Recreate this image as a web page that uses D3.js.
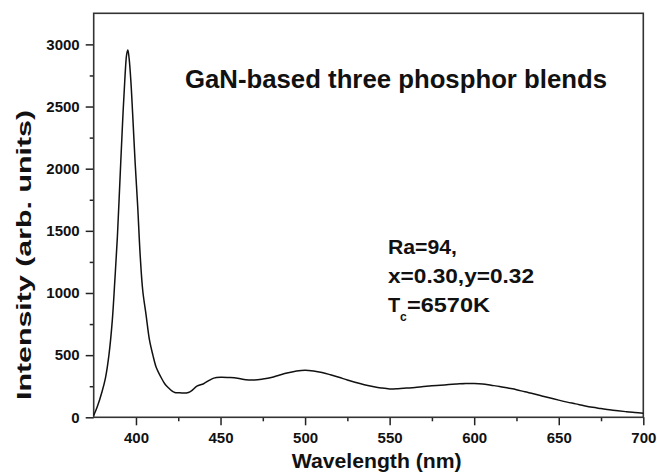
<!DOCTYPE html>
<html>
<head>
<meta charset="utf-8">
<script src="https://cdn.jsdelivr.net/npm/d3@7/dist/d3.min.js"></script>
<style>
  html, body { margin: 0; padding: 0; background: #fff; }
  svg { display: block; }
  text { font-family: "Liberation Sans", Arial, Helvetica, sans-serif; font-weight: bold; fill: #111; }
</style>
</head>
<body>
<svg id="chart" width="657" height="472"></svg>
<script>
// Emission spectrum
const wavelength = [375, 377, 380, 382, 384, 386, 387.5, 389, 390.5, 392, 393.5, 394.5, 395.2, 396, 397, 398, 399.5, 401, 402.5, 404, 406, 408, 410, 412, 414.5, 417, 419, 421, 423, 425, 428, 431, 433, 436, 440, 443, 446, 450, 455, 460, 465, 470, 475, 480, 485, 490, 495, 500, 505, 510, 515, 520, 525, 530, 535, 540, 545, 550, 555, 560, 565, 570, 575, 580, 585, 590, 595, 600, 605, 610, 615, 620, 625, 630, 635, 640, 645, 650, 655, 660, 665, 670, 675, 680, 685, 690, 695, 700];
const intensity = [15, 80, 210, 320, 500, 780, 1100, 1450, 1900, 2350, 2740, 2920, 2955, 2880, 2700, 2450, 2050, 1700, 1300, 1020, 820, 620, 500, 400, 330, 270, 240, 215, 200, 198, 195, 200, 215, 250, 270, 295, 315, 322, 320, 315, 302, 300, 308, 320, 340, 358, 372, 378, 372, 360, 342, 322, 300, 280, 262, 248, 236, 228, 230, 235, 240, 247, 253, 258, 263, 268, 272, 272, 268, 258, 248, 235, 222, 205, 190, 172, 155, 138, 122, 108, 93, 80, 70, 60, 52, 45, 38, 33];

const xMajorTicks = [400, 450, 500, 550, 600, 650, 700];
const xMinorTicks = [425, 475, 525, 575, 625, 675];
const yMajorTicks = [0, 500, 1000, 1500, 2000, 2500, 3000];
const yMinorTicks = [250, 750, 1250, 1750, 2250, 2750];

const titleText = "GaN-based three phosphor blends";
const infoLines = ["Ra=94,", "x=0.30,y=0.32"];
const tcMain = "T", tcSub = "c", tcValue = "=6570K";
const xLabel = "Wavelength (nm)";
const yLabel = "Intensity (arb. units)";

const svg = d3.select("#chart");
const pLeft = 93.7, pRight = 643.3, pTop = 13.3, pBottom = 417.3;

const x = d3.scaleLinear().domain([375, 700]).range([pLeft, pRight]);
const y = d3.scaleLinear().domain([0, 3250]).range([pBottom, pTop]);

// axes
const xAxis = svg.append("g").attr("transform", `translate(0,${pBottom})`)
  .call(d3.axisBottom(x).tickValues(xMajorTicks).tickSize(8).tickPadding(7).tickFormat(d3.format("d")));
const xMinor = svg.append("g").attr("transform", `translate(0,${pBottom})`)
  .call(d3.axisBottom(x).tickValues(xMinorTicks).tickSize(4).tickFormat(""));
const yAxis = svg.append("g").attr("transform", `translate(${pLeft},0)`)
  .call(d3.axisLeft(y).tickValues(yMajorTicks).tickSize(8).tickPadding(6).tickFormat(d3.format("d")));
const yMinor = svg.append("g").attr("transform", `translate(${pLeft},0)`)
  .call(d3.axisLeft(y).tickValues(yMinorTicks).tickSize(4).tickFormat(""));

[xAxis, xMinor, yAxis, yMinor].forEach(g => {
  g.select(".domain").remove();
  g.selectAll("line").attr("stroke", "#222").attr("stroke-width", 1.5);
  g.selectAll("text").attr("font-size", 15).attr("fill", "#111")
    .style("font-family", '"Liberation Sans", Arial, sans-serif').style("font-weight", "bold");
});

// frame
svg.append("rect").attr("x", pLeft).attr("y", pTop).attr("width", pRight - pLeft).attr("height", pBottom - pTop)
  .attr("fill", "none").attr("stroke", "#333").attr("stroke-width", 1.6);

// spectrum line
const data = wavelength.map((w, i) => [w, intensity[i]]);
svg.append("path").datum(data)
  .attr("fill", "none").attr("stroke", "#111").attr("stroke-width", 1.5).attr("stroke-linejoin", "round")
  .attr("d", d3.line().x(d => x(d[0])).y(d => y(d[1])).curve(d3.curveCatmullRom.alpha(0.5)));

// title
svg.append("text").attr("x", 185).attr("y", 87.5).attr("font-size", 26)
  .attr("textLength", 422).attr("lengthAdjust", "spacingAndGlyphs").text(titleText);

// info text
const infoLen = [69, 146];
infoLines.forEach((t, i) => {
  svg.append("text").attr("x", 388).attr("y", 254 + i * 29).attr("font-size", 20)
    .attr("textLength", infoLen[i]).attr("lengthAdjust", "spacingAndGlyphs").text(t);
});
svg.append("text").attr("x", 388).attr("y", 312).attr("font-size", 20).text(tcMain);
svg.append("text").attr("x", 400).attr("y", 321).attr("font-size", 12).text(tcSub);
svg.append("text").attr("x", 407).attr("y", 312).attr("font-size", 20)
  .attr("textLength", 83).attr("lengthAdjust", "spacingAndGlyphs").text(tcValue);

// axis labels
svg.append("text").attr("x", 376.7).attr("y", 468).attr("text-anchor", "middle").attr("font-size", 20)
  .attr("textLength", 170).attr("lengthAdjust", "spacingAndGlyphs").text(xLabel);
svg.append("text").attr("transform", "translate(31,255) rotate(-90)").attr("text-anchor", "middle")
  .attr("font-size", 21).attr("textLength", 290).attr("lengthAdjust", "spacingAndGlyphs").text(yLabel);
</script>
</body>
</html>
